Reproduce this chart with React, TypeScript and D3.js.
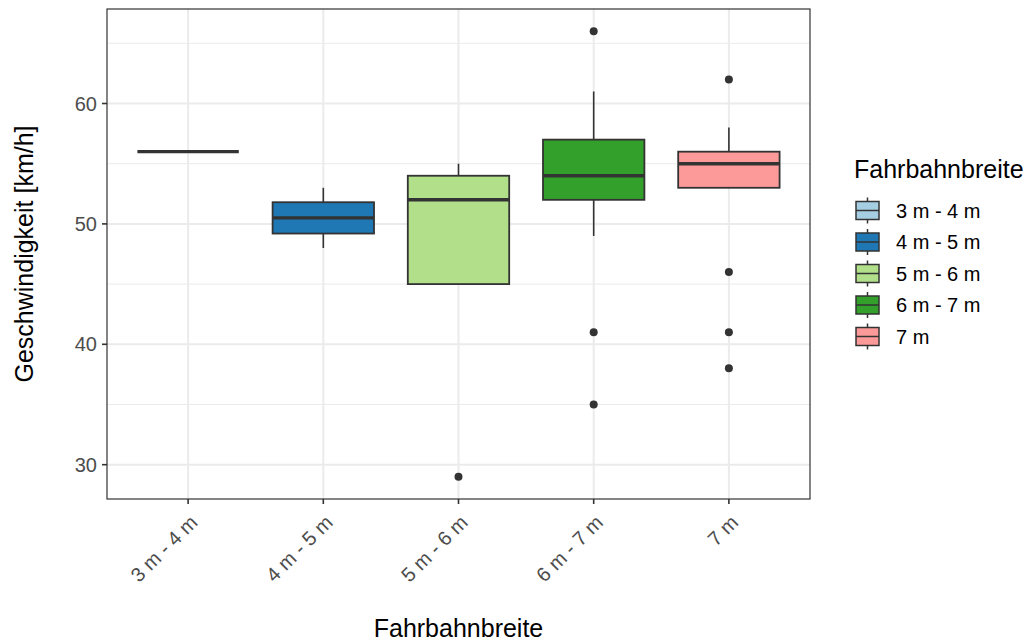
import { useEffect } from 'react';
import * as d3 from 'd3';

const categories = ['3 m - 4 m', '4 m - 5 m', '5 m - 6 m', '6 m - 7 m', '7 m'];
const colors = ['#A6CEE3', '#1F78B4', '#B2DF8A', '#33A02C', '#FB9A99'];
// box stats
const whiskerLow = [56, 48, 45, 49, 53];
const q1 = [56, 49.2, 45, 52, 53];
const median = [56, 50.5, 52, 54, 55];
const q3 = [56, 51.8, 54, 57, 56];
const whiskerHigh = [56, 53, 55, 61, 58];
const outliers: number[][] = [[], [], [29], [66, 41, 35], [62, 46, 41, 38]];
const yTicks = [30, 40, 50, 60];
const yMinor = [35, 45, 55, 65];

const W = 1034;
const H = 644;
const panel = { left: 107, right: 810, top: 9, bottom: 499 };
const FONT = '"Liberation Sans", Arial, Helvetica, sans-serif';
const TICK_SIZE = 20;
const TITLE_SIZE = 25;

export default function App() {
  useEffect(() => {
    document.body.style.margin = '0';
  }, []);

  // ggplot discrete axis: 0.6 units of expansion on each side
  const x = d3.scalePoint<string>()
    .domain(categories)
    .range([panel.left, panel.right])
    .padding(0.6);
  const cx = (i: number) => x(categories[i])!;
  const boxW = x.step() * 0.75;

  const y = d3.scaleLinear()
    .domain([29 - 37 * 0.05, 66 + 37 * 0.05])
    .range([panel.bottom, panel.top]);

  const stroke = '#333333';

  return (
    <svg width={W} height={H} style={{ display: 'block', fontFamily: FONT }}>
      <rect x={0} y={0} width={W} height={H} fill="#fff" />
      {/* minor grid */}
      {yMinor.map(v => (
        <line key={'mn' + v} x1={panel.left} x2={panel.right} y1={y(v)} y2={y(v)} stroke="#EBEBEB" strokeWidth={1} />
      ))}
      {/* major grid */}
      {yTicks.map(v => (
        <line key={'mj' + v} x1={panel.left} x2={panel.right} y1={y(v)} y2={y(v)} stroke="#EBEBEB" strokeWidth={2} />
      ))}
      {categories.map((c, i) => (
        <line key={'gx' + c} x1={cx(i)} x2={cx(i)} y1={panel.top} y2={panel.bottom} stroke="#EBEBEB" strokeWidth={2} />
      ))}

      {/* boxes */}
      {categories.map((c, i) => {
        const x0 = cx(i) - boxW / 2;
        return (
          <g key={'box' + c}>
            <line x1={cx(i)} x2={cx(i)} y1={y(whiskerHigh[i])} y2={y(q3[i])} stroke={stroke} strokeWidth={1.6} />
            <line x1={cx(i)} x2={cx(i)} y1={y(q1[i])} y2={y(whiskerLow[i])} stroke={stroke} strokeWidth={1.6} />
            <rect x={x0} y={y(q3[i])} width={boxW} height={y(q1[i]) - y(q3[i])} fill={colors[i]} stroke={stroke} strokeWidth={1.8} />
            <line x1={x0} x2={x0 + boxW} y1={y(median[i])} y2={y(median[i])} stroke={stroke} strokeWidth={3.4} />
            {outliers[i].map((o, j) => (
              <circle key={j} cx={cx(i)} cy={y(o)} r={4} fill={stroke} />
            ))}
          </g>
        );
      })}

      {/* panel border */}
      <rect x={panel.left} y={panel.top} width={panel.right - panel.left} height={panel.bottom - panel.top} fill="none" stroke="#333333" strokeWidth={1.2} />

      {/* y axis */}
      {yTicks.map(v => (
        <g key={'yt' + v}>
          <line x1={panel.left - 5} x2={panel.left} y1={y(v)} y2={y(v)} stroke="#333333" strokeWidth={1.6} />
          <text x={panel.left - 10} y={y(v)} dy="0.36em" textAnchor="end" fontSize={TICK_SIZE} fill="#4D4D4D">{v}</text>
        </g>
      ))}
      <text transform={`translate(33,${(panel.top + panel.bottom) / 2}) rotate(-90)`} textAnchor="middle" fontSize={TITLE_SIZE} fill="#000">
        Geschwindigkeit [km/h]
      </text>

      {/* x axis */}
      {categories.map((c, i) => (
        <g key={'xt' + c}>
          <line x1={cx(i)} x2={cx(i)} y1={panel.bottom} y2={panel.bottom + 5} stroke="#333333" strokeWidth={1.6} />
          <text transform={`translate(${cx(i)},${panel.bottom + 14}) rotate(-45)`} textAnchor="end" dy="0.75em" fontSize={TICK_SIZE} fill="#4D4D4D">
            {c}
          </text>
        </g>
      ))}
      <text x={(panel.left + panel.right) / 2} y={637} textAnchor="middle" fontSize={TITLE_SIZE} fill="#000">Fahrbahnbreite</text>

      {/* legend */}
      <text x={854} y={178} fontSize={TITLE_SIZE} fill="#000">Fahrbahnbreite</text>
      {categories.map((c, i) => {
        const ky = 210.5 + i * 31.5;
        return (
          <g key={'lg' + c}>
            <line x1={867.5} x2={867.5} y1={ky - 13} y2={ky + 13} stroke={stroke} strokeWidth={1.5} />
            <rect x={856} y={ky - 9} width={23} height={18} fill={colors[i]} stroke={stroke} strokeWidth={1.5} />
            <line x1={856} x2={879} y1={ky} y2={ky} stroke={stroke} strokeWidth={1.5} />
            <text x={896} y={ky} dy="0.36em" fontSize={TICK_SIZE} fill="#000">{c}</text>
          </g>
        );
      })}
    </svg>
  );
}
